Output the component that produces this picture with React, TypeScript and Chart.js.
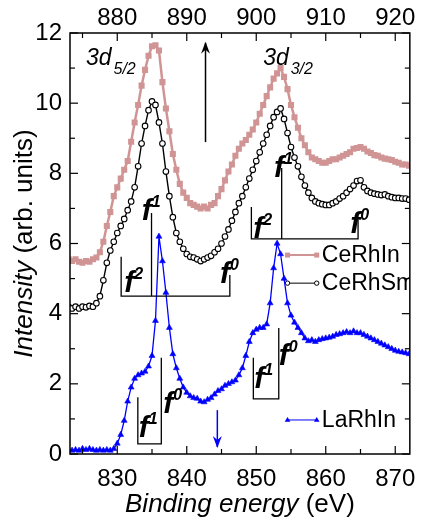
import React, { useEffect, useRef } from "react";
import { Chart, registerables } from "chart.js";

Chart.register(...registerables);

// Binding energy (eV), bottom axis
const energy = [
  823.0, 823.5, 824.0, 824.5, 825.0, 825.5, 826.0, 826.5, 827.0, 827.5,
  828.0, 828.5, 829.0, 829.5, 830.0, 830.5, 831.0, 831.5, 832.0, 832.5,
  833.0, 833.5, 834.0, 834.5, 835.0, 835.5, 836.0, 836.5, 837.0, 837.5,
  838.0, 838.5, 839.0, 839.5, 840.0, 840.5, 841.0, 841.5, 842.0, 842.5,
  843.0, 843.5, 844.0, 844.5, 845.0, 845.5, 846.0, 846.5, 847.0, 847.5,
  848.0, 848.5, 849.0, 849.5, 850.0, 850.5, 851.0, 851.5, 852.0, 852.5,
  853.0, 853.5, 854.0, 854.5, 855.0, 855.5, 856.0, 856.5, 857.0, 857.5,
  858.0, 858.5, 859.0, 859.5, 860.0, 860.5, 861.0, 861.5, 862.0, 862.5,
  863.0, 863.5, 864.0, 864.5, 865.0, 865.5, 866.0, 866.5, 867.0, 867.5,
  868.0, 868.5, 869.0, 869.5, 870.0, 870.5, 871.0, 871.5, 872.0,
];

const ceRhIn = [
  5.55, 5.5, 5.55, 5.48, 5.45, 5.5, 5.48, 5.55, 5.6, 5.75,
  6.05, 6.5, 6.9, 7.35, 7.6, 7.85, 8.1, 8.35, 8.9, 9.45,
  9.95, 10.5, 10.95, 11.35, 11.62, 11.65, 11.5, 10.6, 9.85, 9.2,
  8.55, 8.1, 7.7, 7.45, 7.3, 7.15, 7.1, 7.05, 7.0, 7.05,
  7.0, 7.1, 7.15, 7.35, 7.55, 7.8, 8.05, 8.25, 8.5, 8.7,
  8.85, 8.95, 9.1, 9.25, 9.45, 9.7, 9.95, 10.2, 10.45, 10.7,
  10.85, 11.0, 10.75, 10.4, 9.95, 9.6, 9.3, 9.0, 8.8, 8.6,
  8.45, 8.4, 8.35, 8.3, 8.3, 8.35, 8.4, 8.4, 8.45, 8.5,
  8.55, 8.6, 8.7, 8.72, 8.75, 8.7, 8.62, 8.58, 8.52, 8.5,
  8.45, 8.42, 8.4, 8.38, 8.33, 8.3, 8.25, 8.25, 8.22,
];

const ceRhSn = [
  4.2, 4.15, 4.2, 4.15, 4.2, 4.18, 4.22, 4.2, 4.3, 4.5,
  4.95, 5.45, 5.8, 6.05, 6.3, 6.5, 6.7, 6.95, 7.2, 7.6,
  8.2, 8.85, 9.35, 9.8, 10.05, 9.95, 9.45, 8.85, 8.05, 7.35,
  6.75, 6.3, 6.05, 5.85, 5.7, 5.62, 5.6, 5.55, 5.5, 5.55,
  5.6, 5.65, 5.75, 5.85, 6.0, 6.2, 6.4, 6.65, 6.9, 7.15,
  7.35, 7.6, 7.85, 8.1, 8.35, 8.6, 8.85, 9.1, 9.35, 9.6,
  9.75, 9.85, 9.55, 9.15, 8.75, 8.45, 8.2, 7.9, 7.65, 7.45,
  7.3, 7.2, 7.15, 7.12, 7.1, 7.1, 7.15, 7.2, 7.28, 7.35,
  7.45, 7.55, 7.65, 7.78, 7.8, 7.6, 7.5, 7.45, 7.42, 7.4,
  7.38, 7.4, 7.35, 7.32, 7.3, 7.3, 7.28, 7.28, 7.25,
];

const laRhIn = [
  0.12, 0.1, 0.12, 0.1, 0.15, 0.12, 0.15, 0.12, 0.1, 0.12,
  0.1, 0.12, 0.1, 0.15, 0.3, 0.55, 0.95, 1.5, 1.9, 2.15,
  2.25, 2.3, 2.35, 2.5, 2.8, 3.8, 6.2, 5.5, 4.6, 3.6,
  2.85, 2.45, 2.15, 1.9, 1.75, 1.65, 1.6, 1.58, 1.5, 1.48,
  1.55, 1.6, 1.7, 1.8, 1.85, 1.95, 2.0, 2.05, 2.1, 2.25,
  2.45, 2.8, 3.2, 3.45, 3.55, 3.6, 3.6, 3.7, 4.3, 5.3,
  6.0, 5.7, 5.0, 4.3, 3.95, 3.75, 3.6, 3.45, 3.3, 3.22,
  3.25, 3.2, 3.25, 3.28, 3.3, 3.32, 3.35, 3.4, 3.42, 3.45,
  3.48, 3.45, 3.5, 3.45, 3.45, 3.4, 3.35, 3.3, 3.25, 3.2,
  3.15, 3.1, 3.05, 3.0, 2.95, 2.92, 2.9, 2.88, 2.85,
];

const seriesNames = ["CeRhIn", "CeRhSm", "LaRhIn"];
const seriesColors = ["#d19494", "#000000", "#0000ff"];

const bottomTicks = [830, 840, 850, 860, 870];
const bottomMinor = [825, 835, 845, 855, 865];
const topTicks = [880, 890, 900, 910, 920];
const topMinor = [875, 885, 895, 905, 915];
const yTicks = [0, 2, 4, 6, 8, 10, 12];
const yMinor = [1, 3, 5, 7, 9, 11];

const X_MIN = 823.2;
const X_MAX = 872.1;
const TOP_SHIFT = 50;

const FONT = '"Liberation Sans", Arial, Helvetica, sans-serif';

// annotation brackets (energy, intensity)
const brackets: number[][][] = [
  // CeRhSn 3d5/2
  [[830.56, 5.62], [830.56, 4.5], [846.2, 4.5], [846.2, 5.1]],
  [[834.93, 6.87], [834.93, 4.5]],
  // CeRhSn 3d3/2
  [[849.3, 7.04], [849.3, 6.13], [864.65, 6.13], [864.65, 6.67]],
  [[853.66, 8.15], [853.66, 6.13]],
  // LaRhIn 3d5/2
  [[832.96, 1.62], [832.96, 0.29], [836.34, 0.29], [836.34, 2.74]],
  // LaRhIn 3d3/2
  [[849.58, 2.74], [849.58, 1.57], [853.24, 1.57], [853.24, 3.59]],
];

const fLabels: [number, number, string][] = [
  [830.99, 4.62, "2"],
  [833.52, 6.67, "1"],
  [844.79, 4.87, "0"],
  [849.58, 6.16, "2"],
  [852.54, 7.9, "1"],
  [863.52, 6.3, "0"],
  [833.1, 0.48, "1"],
  [836.62, 1.17, "0"],
  [849.72, 1.88, "1"],
  [853.24, 2.54, "0"],
];

const annotPlugin = {
  id: "annot",
  afterDatasetsDraw(chart: any) {
    const { ctx, chartArea: a, scales } = chart;
    const xs = scales.x;
    const xt = scales.x2;
    const ys = scales.y;
    const X = (v: number) => xs.getPixelForValue(v);
    const Y = (v: number) => ys.getPixelForValue(v);
    ctx.save();
    ctx.strokeStyle = "#000";
    ctx.fillStyle = "#000";
    ctx.lineWidth = 1.5;
    ctx.strokeRect(a.left, a.top, a.right - a.left, a.bottom - a.top);

    const tick = (x1: number, y1: number, x2: number, y2: number) => {
      ctx.beginPath();
      ctx.moveTo(x1, y1);
      ctx.lineTo(x2, y2);
      ctx.stroke();
    };
    ctx.lineWidth = 1.2;
    bottomTicks.forEach((v) => tick(X(v), a.bottom, X(v), a.bottom - 8));
    bottomMinor.forEach((v) => tick(X(v), a.bottom, X(v), a.bottom - 5));
    topTicks.forEach((v) => tick(xt.getPixelForValue(v), a.top, xt.getPixelForValue(v), a.top + 8));
    topMinor.forEach((v) => tick(xt.getPixelForValue(v), a.top, xt.getPixelForValue(v), a.top + 5));
    yTicks.forEach((v) => {
      tick(a.left, Y(v), a.left + 8, Y(v));
      tick(a.right, Y(v), a.right - 8, Y(v));
    });
    yMinor.forEach((v) => {
      tick(a.left, Y(v), a.left + 5, Y(v));
      tick(a.right, Y(v), a.right - 5, Y(v));
    });

    // brackets
    ctx.lineWidth = 1.3;
    brackets.forEach((pl) => {
      ctx.beginPath();
      pl.forEach(([ex, iy], i) => {
        if (i === 0) ctx.moveTo(X(ex), Y(iy));
        else ctx.lineTo(X(ex), Y(iy));
      });
      ctx.stroke();
    });

    // f labels
    ctx.textAlign = "left";
    ctx.textBaseline = "alphabetic";
    fLabels.forEach(([ex, iy, sup]) => {
      ctx.font = `italic bold 30px ${FONT}`;
      const px = X(ex);
      const py = Y(iy);
      ctx.fillText("f", px, py);
      const w = ctx.measureText("f").width;
      ctx.font = `italic bold 16px ${FONT}`;
      ctx.fillText(sup, px + w * 1.0, py - 13);
    });

    // 3d labels
    const d3 = (ex: number, sub: string) => {
      ctx.font = `italic 23px ${FONT}`;
      const px = X(ex);
      const py = Y(11.09);
      ctx.fillText("3d", px, py);
      const w = ctx.measureText("3d").width;
      ctx.font = `italic 16px ${FONT}`;
      ctx.fillText(sub, px + w + 2, Y(10.83));
    };
    d3(825.49, "5/2");
    d3(850.99, "3/2");

    // arrows
    const arrow = (ex: number, y0: number, y1: number, color: string) => {
      const px = X(ex);
      const p0 = Y(y0);
      const p1 = Y(y1);
      ctx.strokeStyle = color;
      ctx.fillStyle = color;
      ctx.lineWidth = 1.5;
      ctx.beginPath();
      ctx.moveTo(px, p0);
      ctx.lineTo(px, p1);
      ctx.stroke();
      const dir = p1 < p0 ? 1 : -1;
      ctx.beginPath();
      ctx.moveTo(px, p1 - dir * 1);
      ctx.lineTo(px - 4.5, p1 + dir * 11);
      ctx.lineTo(px, p1 + dir * 7);
      ctx.lineTo(px + 4.5, p1 + dir * 11);
      ctx.closePath();
      ctx.fill();
    };
    arrow(842.7, 8.89, 11.72, "#000");
    arrow(844.4, 1.25, 0.2, "#0000ff");

    // legend entries (clipped to plot area)
    ctx.save();
    ctx.beginPath();
    ctx.rect(a.left, a.top, a.right - a.left, a.bottom - a.top);
    ctx.clip();
    const legendRows: [number, number][] = [
      [0, 5.67],
      [1, 4.87],
      [2, 0.97],
    ];
    legendRows.forEach(([si, iy]) => {
      const x0 = X(854.5);
      const x1 = X(858.7);
      const py = Y(iy);
      const col = seriesColors[si];
      ctx.strokeStyle = col;
      ctx.fillStyle = col;
      ctx.lineWidth = si === 0 ? 2 : 1;
      ctx.beginPath();
      ctx.moveTo(x0, py);
      ctx.lineTo(x1, py);
      ctx.stroke();
      [x0, x1].forEach((mx) => {
        if (si === 0) {
          ctx.fillRect(mx - 2.5, py - 2.5, 5, 5);
        } else if (si === 1) {
          ctx.beginPath();
          ctx.arc(mx, py, 2.2, 0, Math.PI * 2);
          ctx.fillStyle = "#fff";
          ctx.fill();
          ctx.lineWidth = 1;
          ctx.stroke();
        } else {
          ctx.beginPath();
          ctx.moveTo(mx, py - 3);
          ctx.lineTo(mx - 2.8, py + 1.8);
          ctx.lineTo(mx + 2.8, py + 1.8);
          ctx.closePath();
          ctx.fill();
        }
      });
      ctx.fillStyle = "#000";
      ctx.font = `23px ${FONT}`;
      ctx.textBaseline = "middle";
      ctx.textAlign = "left";
      ctx.fillText(seriesNames[si], X(859.44), py + 1);
    });
    ctx.restore();

    // axis titles
    ctx.fillStyle = "#000";
    ctx.textBaseline = "alphabetic";
    const titleA = "Binding energy";
    const titleB = " (eV)";
    ctx.font = `italic 26px ${FONT}`;
    const wA = ctx.measureText(titleA).width;
    ctx.font = `26px ${FONT}`;
    const wB = ctx.measureText(titleB).width;
    const cx = (a.left + a.right) / 2;
    let sx = cx - (wA + wB) / 2;
    ctx.textAlign = "left";
    ctx.font = `italic 26px ${FONT}`;
    ctx.fillText(titleA, sx, 512);
    ctx.font = `26px ${FONT}`;
    ctx.fillText(titleB, sx + wA, 512);

    const yA = "Intensity";
    const yB = " (arb. units)";
    ctx.font = `italic 26px ${FONT}`;
    const wyA = ctx.measureText(yA).width;
    ctx.font = `26px ${FONT}`;
    const wyB = ctx.measureText(yB).width;
    ctx.translate(32, (a.top + a.bottom) / 2);
    ctx.rotate(-Math.PI / 2);
    const sy = -(wyA + wyB) / 2;
    ctx.font = `italic 26px ${FONT}`;
    ctx.fillText(yA, sy, 0);
    ctx.font = `26px ${FONT}`;
    ctx.fillText(yB, sy + wyA, 0);
    ctx.restore();
  },
};

export default function App() {
  const ref = useRef<HTMLCanvasElement | null>(null);
  useEffect(() => {
    if (!ref.current) return;
    const pts = (vals: number[]) => energy.map((e, i) => ({ x: e, y: vals[i] }));
    const tickFont = { family: FONT, size: 24 };
    const chart = new Chart(ref.current, {
      type: "line",
      data: {
        datasets: [
          {
            label: seriesNames[0],
            data: pts(ceRhIn),
            borderColor: seriesColors[0],
            backgroundColor: seriesColors[0],
            borderWidth: 2.5,
            pointStyle: "rect",
            pointRadius: 4.3,
            pointBorderWidth: 0,
            pointBackgroundColor: seriesColors[0],
          },
          {
            label: seriesNames[1],
            data: pts(ceRhSn),
            borderColor: seriesColors[1],
            backgroundColor: "#ffffff",
            borderWidth: 1.4,
            pointStyle: "circle",
            pointRadius: 2.8,
            pointBorderWidth: 1.1,
            pointBackgroundColor: "#ffffff",
          },
          {
            label: seriesNames[2],
            data: pts(laRhIn),
            borderColor: seriesColors[2],
            backgroundColor: seriesColors[2],
            borderWidth: 1.3,
            pointStyle: "triangle",
            pointRadius: 3.4,
            pointBorderWidth: 0.6,
            pointBackgroundColor: seriesColors[2],
          },
        ],
      },
      options: {
        responsive: false,
        animation: false,
        events: [],
        layout: { padding: { left: 0, right: 10, top: 0, bottom: 0 } },
        plugins: { legend: { display: false }, tooltip: { enabled: false } },
        scales: {
          x: {
            type: "linear",
            position: "bottom",
            min: X_MIN,
            max: X_MAX,
            afterBuildTicks: (s: any) => {
              s.ticks = bottomTicks.map((v) => ({ value: v }));
            },
            afterFit: (s: any) => {
              s.height = 66;
            },
            ticks: {
              autoSkip: false,
              maxRotation: 0,
              color: "#000",
              font: tickFont,
              padding: 11,
              callback: (v: any) => String(v),
            },
            grid: { display: false, drawTicks: false },
            border: { display: false },
          },
          x2: {
            type: "linear",
            position: "top",
            min: X_MIN + TOP_SHIFT,
            max: X_MAX + TOP_SHIFT,
            afterBuildTicks: (s: any) => {
              s.ticks = topTicks.map((v) => ({ value: v }));
            },
            afterFit: (s: any) => {
              s.height = 33;
            },
            ticks: {
              autoSkip: false,
              maxRotation: 0,
              color: "#000",
              font: tickFont,
              padding: 0,
              callback: (v: any) => String(v),
            },
            grid: { display: false, drawTicks: false },
            border: { display: false },
          },
          y: {
            type: "linear",
            position: "left",
            min: 0,
            max: 12,
            afterBuildTicks: (s: any) => {
              s.ticks = yTicks.map((v) => ({ value: v }));
            },
            afterFit: (s: any) => {
              s.width = 70;
            },
            ticks: {
              color: "#000",
              font: tickFont,
              padding: 8,
              callback: (v: any) => String(v),
            },
            grid: { display: false, drawTicks: false },
            border: { display: false },
          },
        },
      },
      plugins: [annotPlugin],
    } as any);
    return () => chart.destroy();
  }, []);
  return (
    <div style={{ position: "fixed", left: 0, top: 0, width: 427, height: 520, background: "#fff" }}>
      <canvas ref={ref} width={427} height={520} style={{ width: 427, height: 520 }} />
    </div>
  );
}
